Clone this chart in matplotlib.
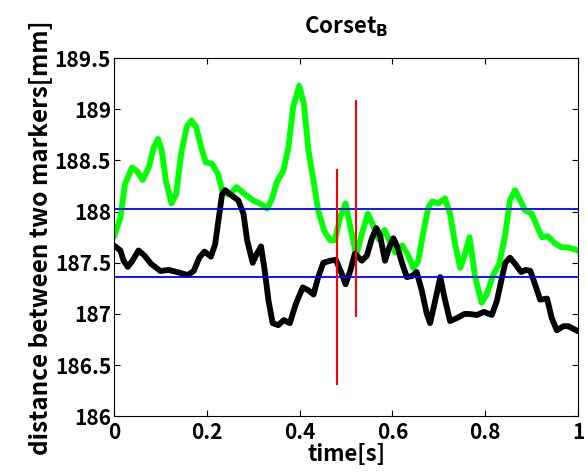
import numpy as np
import matplotlib
matplotlib.use("Agg")
import matplotlib.pyplot as plt

plt.rcParams["font.family"] = ["Noto Sans CJK JP", "DejaVu Sans"]
plt.rcParams["font.weight"] = "bold"

# green trace
t_green = [0.0, 0.014, 0.024, 0.039, 0.049, 0.062, 0.075, 0.086, 0.095, 0.103,
           0.112, 0.124, 0.134, 0.145, 0.157, 0.167, 0.177, 0.188, 0.198, 0.211,
           0.224, 0.233, 0.244, 0.250, 0.264, 0.282, 0.300, 0.318, 0.330, 0.340,
           0.351, 0.365, 0.376, 0.386, 0.399, 0.409, 0.419, 0.430, 0.440, 0.453,
           0.466, 0.476, 0.487, 0.499, 0.511, 0.522, 0.534, 0.547, 0.559, 0.570,
           0.583, 0.595, 0.606, 0.621, 0.634, 0.645, 0.655, 0.667, 0.677, 0.686,
           0.699, 0.713, 0.724, 0.735, 0.746, 0.754, 0.766, 0.778, 0.792, 0.803,
           0.816, 0.830, 0.843, 0.853, 0.864, 0.875, 0.886, 0.900, 0.911, 0.922,
           0.934, 0.950, 0.965, 0.979, 1.0]
d_green = [187.75, 187.94, 188.27, 188.43, 188.40, 188.31, 188.43, 188.63, 188.71, 188.60,
           188.30, 188.08, 188.17, 188.57, 188.83, 188.89, 188.83, 188.63, 188.48, 188.47,
           188.37, 188.21, 188.17, 188.17, 188.24, 188.17, 188.11, 188.07, 188.03, 188.12,
           188.29, 188.40, 188.63, 189.02, 189.23, 189.06, 188.60, 188.30, 188.01, 187.81,
           187.72, 187.72, 187.94, 188.08, 187.81, 187.57, 187.78, 187.98, 187.86, 187.73,
           187.82, 187.70, 187.60, 187.67, 187.57, 187.45, 187.51, 187.81, 188.04, 188.10,
           188.08, 188.13, 187.98, 187.68, 187.45, 187.55, 187.75, 187.36, 187.11, 187.19,
           187.37, 187.49, 187.78, 188.11, 188.21, 188.11, 188.01, 187.98, 187.86, 187.75,
           187.76, 187.69, 187.65, 187.65, 187.62]

# black trace
t_black = [0.0, 0.014, 0.021, 0.030, 0.040, 0.053, 0.066, 0.080, 0.100, 0.118,
           0.136, 0.159, 0.172, 0.184, 0.195, 0.209, 0.218, 0.226, 0.233, 0.240,
           0.250, 0.268, 0.279, 0.287, 0.299, 0.307, 0.317, 0.325, 0.333, 0.342,
           0.354, 0.366, 0.379, 0.392, 0.407, 0.419, 0.430, 0.440, 0.451, 0.466,
           0.478, 0.491, 0.499, 0.509, 0.519, 0.534, 0.545, 0.555, 0.565, 0.573,
           0.584, 0.593, 0.602, 0.611, 0.621, 0.631, 0.642, 0.652, 0.663, 0.674,
           0.681, 0.692, 0.703, 0.712, 0.724, 0.739, 0.755, 0.764, 0.782, 0.797,
           0.814, 0.825, 0.836, 0.843, 0.853, 0.864, 0.877, 0.887, 0.897, 0.907,
           0.918, 0.933, 0.943, 0.954, 0.968, 0.979, 1.0]
d_black = [187.67, 187.62, 187.52, 187.46, 187.52, 187.62, 187.57, 187.49, 187.42, 187.43,
           187.41, 187.38, 187.42, 187.55, 187.61, 187.56, 187.68, 187.94, 188.17, 188.21,
           188.17, 188.11, 187.98, 187.72, 187.50, 187.58, 187.66, 187.42, 187.13, 186.91,
           186.89, 186.94, 186.91, 187.10, 187.26, 187.23, 187.19, 187.36, 187.50, 187.52,
           187.53, 187.39, 187.29, 187.42, 187.59, 187.52, 187.57, 187.73, 187.84, 187.77,
           187.52, 187.65, 187.74, 187.65, 187.49, 187.36, 187.37, 187.41, 187.23, 187.00,
           186.91, 187.13, 187.36, 187.16, 186.93, 186.96, 187.00, 187.00, 186.99, 187.02,
           186.99, 187.13, 187.36, 187.50, 187.55, 187.49, 187.41, 187.43, 187.42, 187.29,
           187.14, 187.15, 186.96, 186.84, 186.88, 186.88, 186.83]

# reference levels and marker windows
h_levels = [188.026, 187.363]
v_times = [0.480, 0.521]
v_low = [186.31, 186.97]
v_high = [188.42, 189.09]

fig = plt.figure(figsize=(5.87, 4.73), dpi=100)
ax = fig.add_axes([0.194, 0.120, 0.791, 0.757])

ax.plot(t_green, d_green, color="#00ff00", lw=4.2,
        solid_joinstyle="round", solid_capstyle="round")
ax.plot(t_black, d_black, color="black", lw=4.2,
        solid_joinstyle="round", solid_capstyle="round")
for h in h_levels:
    ax.axhline(h, color="blue", lw=1.3)
ax.vlines(v_times, v_low, v_high, color="red", lw=1.5)

ax.set_xlim(0, 1)
ax.set_ylim(186, 189.5)
ax.set_xticks([0, 0.2, 0.4, 0.6, 0.8, 1])
ax.set_xticklabels(["0", "0.2", "0.4", "0.6", "0.8", "1"])
ax.set_yticks([186, 186.5, 187, 187.5, 188, 188.5, 189, 189.5])
ax.set_yticklabels(["186", "186.5", "187", "187.5", "188", "188.5", "189", "189.5"])
ax.tick_params(direction="in", top=True, right=True, length=4, labelsize=15)
ax.tick_params(axis="y", pad=2)
ax.tick_params(axis="x", pad=4)
for lab in ax.get_xticklabels() + ax.get_yticklabels():
    lab.set_fontweight("bold")

ax.set_xlabel("time[s]", fontsize=16, fontweight="bold", labelpad=0)
ax.set_ylabel("distance between two markers[mm]", fontsize=17.5, fontweight="bold", labelpad=2)
ax.set_title("Corset$_\\mathbf{B}$", fontsize=16, fontweight="bold", pad=18)

fig.savefig("out.png", dpi=100)
